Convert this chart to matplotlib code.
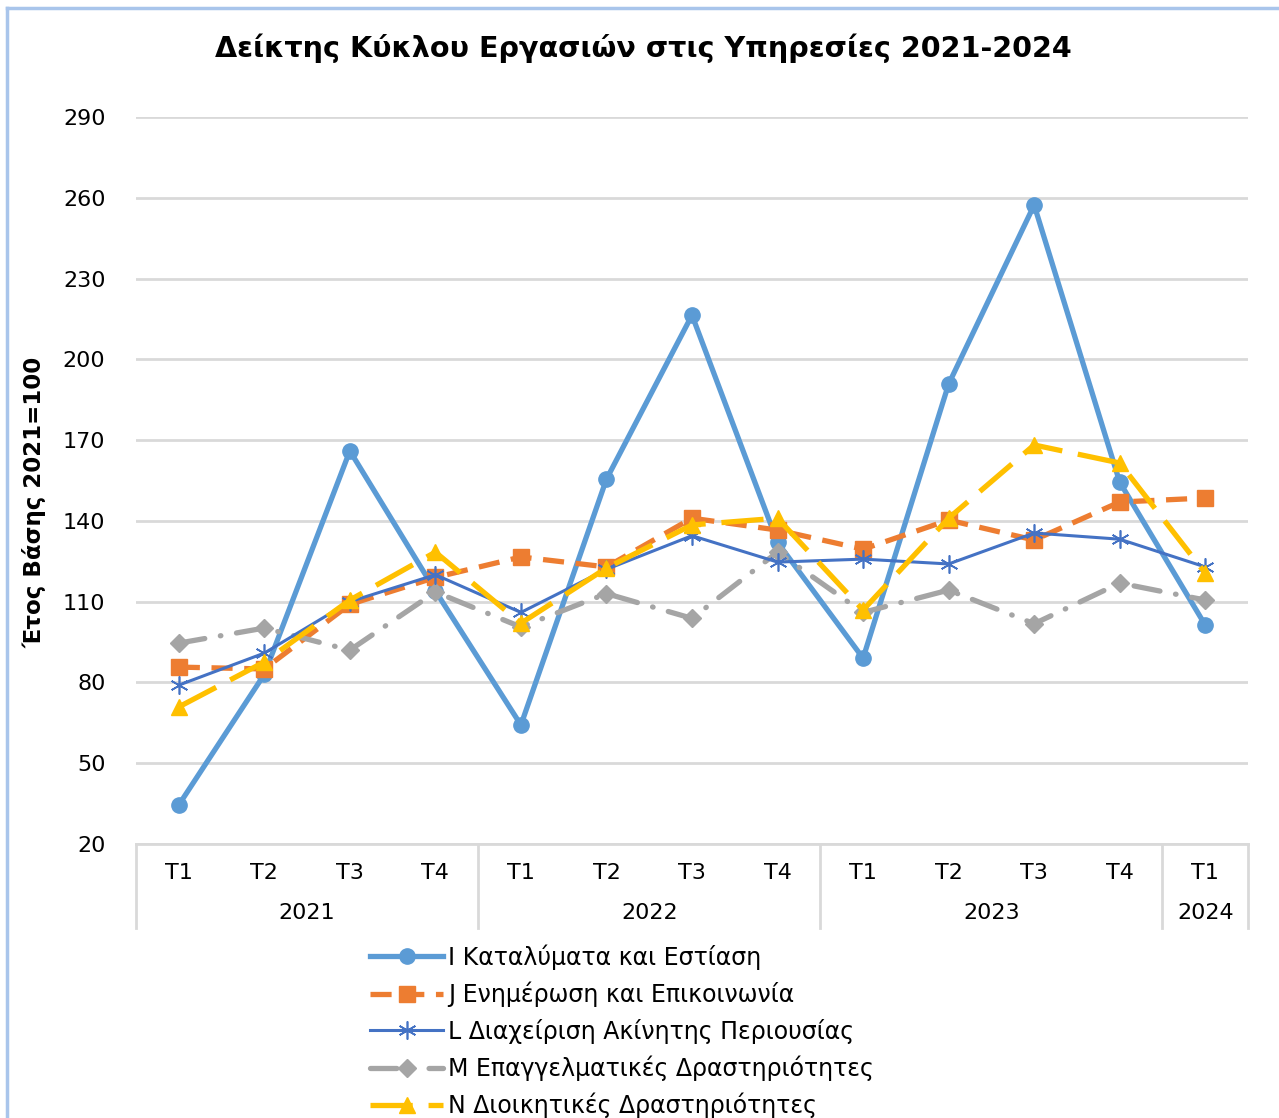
import matplotlib.pyplot as plt
from matplotlib.lines import Line2D
import matplotlib.transforms as mtransforms

plt.rcParams['font.family'] = ['DejaVu Sans']

quarters = ['T1', 'T2', 'T3', 'T4', 'T1', 'T2', 'T3', 'T4', 'T1', 'T2', 'T3', 'T4', 'T1']
years = ['2021', '2022', '2023', '2024']
year_sizes = [4, 4, 4, 1]

i_accommodation = [34.5, 83, 166, 114, 64.2, 155.5, 216.4, 132, 89, 190.8, 257.3, 154.4, 101.3]
j_information = [85.7, 85, 109, 119, 126.6, 122.9, 141, 136.6, 129.5, 140.3, 132.9, 147, 148.5]
l_real_estate = [79, 90.9, 110, 120, 106, 122, 134.5, 124.7, 125.8, 124, 135.5, 133.2, 122.9]
m_professional = [94.6, 100.2, 92, 113.6, 100.6, 113, 103.8, 128.4, 106, 114.3, 101.8, 116.9, 110.6]
n_admin = [70.9, 87.6, 110.6, 128.4, 102, 122.5, 138.5, 141, 106.9, 141, 168.2, 161.5, 120.6]

names = ['I Καταλύματα και Εστίαση',
         'J Ενημέρωση και Επικοινωνία',
         'L Διαχείριση Ακίνητης Περιουσίας',
         'M Επαγγελματικές Δραστηριότητες',
         'N Διοικητικές Δραστηριότητες']

fig = plt.figure(figsize=(12.79, 11.18), dpi=100)
ax = fig.add_axes([136 / 1279, 1 - 844 / 1118, 1112 / 1279, 727 / 1118])

x = list(range(len(quarters)))

ax.plot(x, i_accommodation, color='#5B9BD5', lw=3.8, marker='o', ms=11,
        label=names[0], zorder=3)
ax.plot(x, j_information, color='#ED7D31', lw=3.8, ls=(0, (4, 2.2)), marker='s', ms=11,
        label=names[1], zorder=3)
ax.plot(x, l_real_estate, color='#4472C4', lw=2.2, marker=(6, 2, 0), ms=13, mew=1.2,
        label=names[2], zorder=4)
ax.plot(x, m_professional, color='#A5A5A5', lw=3.8, ls=(0, (5, 3, 0.1, 3)),
        dash_capstyle='round', marker='D', ms=9, label=names[3], zorder=3)
ax.plot(x, n_admin, color='#FFC000', lw=3.8, ls=(0, (8, 3)), marker='^', ms=12,
        label=names[4], zorder=5)

ax.set_xlim(-0.5, len(quarters) - 0.5)
ax.set_ylim(20, 290)
ax.set_yticks(range(20, 291, 30))
ax.yaxis.grid(True, color='#D9D9D9', lw=2)
ax.set_axisbelow(True)
for s in ['top', 'right', 'left']:
    ax.spines[s].set_visible(False)
ax.spines['bottom'].set_color('#D9D9D9')
ax.spines['bottom'].set_linewidth(2)
ax.tick_params(axis='y', length=0, labelsize=16, pad=22)
ax.tick_params(axis='x', length=0, labelsize=16, pad=14)
ax.set_xticks(x)
ax.set_xticklabels(quarters)

# second level of the category axis (years)
trans = mtransforms.blended_transform_factory(ax.transData, ax.transAxes)
drop = 84 / 727
start = -0.5
bounds = [start]
for y, n in zip(years, year_sizes):
    ax.text(start + n / 2, -69 / 727, y, transform=trans, ha='center', va='center',
            fontsize=16)
    start += n
    bounds.append(start)
for b in bounds:
    ax.add_line(Line2D([b, b], [0, -drop], transform=trans, color='#D9D9D9', lw=2,
                       clip_on=False))

fig.text(643 / 1279, 1 - 48 / 1118, 'Δείκτης Κύκλου Εργασιών στις Υπηρεσίες 2021-2024',
         ha='center', va='center', fontsize=20.6, fontweight='bold')
fig.text(35 / 1279, 1 - 502 / 1118, 'Έτος Βάσης 2021=100', rotation=90,
         ha='center', va='center', fontsize=16.5, fontweight='bold')

leg = fig.legend(loc='upper left', bbox_to_anchor=(370 / 1279, 1 - 944 / 1118),
                 frameon=False, fontsize=17, handlelength=3.1, handletextpad=0.2,
                 labelspacing=0.5, borderpad=0, borderaxespad=0)

# light blue chart frame (left and top edges)
fig.add_artist(Line2D([7 / 1279, 7 / 1279], [0, 1 - 8 / 1118], transform=fig.transFigure,
                      color='#A9C5EB', lw=2.5))
fig.add_artist(Line2D([7 / 1279, 1], [1 - 8 / 1118, 1 - 8 / 1118], transform=fig.transFigure,
                      color='#A9C5EB', lw=2.5))

fig.savefig('out.png', dpi=100)
